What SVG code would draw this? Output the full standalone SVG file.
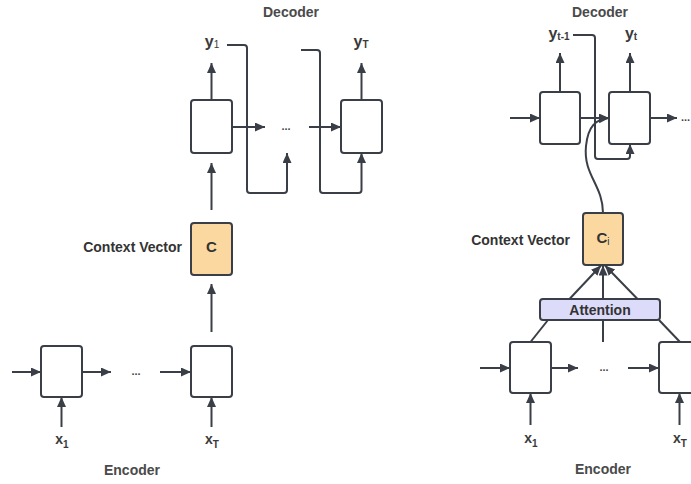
<svg xmlns="http://www.w3.org/2000/svg" width="691" height="484" viewBox="0 0 691 484">
<defs>
<marker id="ah" markerUnits="userSpaceOnUse" markerWidth="12" markerHeight="10" refX="10" refY="4.5" orient="auto"><path d="M0,0 L10,4.5 L0,9 z" fill="#3a3f47"/></marker>
<style>
.box{fill:#fff;stroke:#3a3f47;stroke-width:2}
.ctx{fill:#fbd89f;stroke:#3a3f47;stroke-width:2}
.att{fill:#dcdcfa;stroke:#3a3f47;stroke-width:2}
.ln{fill:none;stroke:#3a3f47;stroke-width:2}
.ar{fill:none;stroke:#3a3f47;stroke-width:2;marker-end:url(#ah)}
.hd{font-family:"Liberation Sans",Arial,sans-serif;font-weight:bold;font-size:14px;fill:#4a4a4a;text-anchor:middle}
.lb{font-family:"Liberation Sans",Arial,sans-serif;font-weight:bold;font-size:14px;fill:#333;text-anchor:middle}
.var{font-family:"Liberation Sans",Arial,sans-serif;font-weight:bold;fill:#3a3a3a;text-anchor:middle}
.dots{font-family:"Liberation Sans",Arial,sans-serif;font-weight:bold;font-size:11px;fill:#444;text-anchor:middle}
</style>
</defs>
<rect width="691" height="484" fill="#fff"/>

<g id="connectors">
<path class="ar" d="M12,372 H41"/>
<path class="ar" d="M82,372 H111"/>
<path class="ar" d="M160,372 H191"/>
<path class="ar" d="M61.5,427 V397"/>
<path class="ar" d="M211.5,427 V397"/>
<path class="ar" d="M211.5,332 V284"/>
<path class="ar" d="M211.5,210 V163"/>
<path class="ar" d="M211.5,100 V63"/>
<path class="ar" d="M361.5,100 V63"/>
<path class="ar" d="M232,127 H265"/>
<path class="ar" d="M309,127 H341"/>
<path class="ar" d="M227,45 H244 Q247,45 247,48 V190 Q247,193 250,193 H284 Q287,193 287,190 V153"/>
<path class="ar" d="M301,50 H317 Q320,50 320,53 V190 Q320,193 323,193 H358.5 Q361.5,193 361.5,190 V153"/>
<path class="ar" d="M510,118 H540"/>
<path class="ar" d="M580,118 H609"/>
<path class="ar" d="M650,118 H677"/>
<path class="ar" d="M560,92 V53"/>
<path class="ar" d="M630,92 V53"/>
<path class="ar" d="M573,35 H592 Q595,35 595,38 V156 Q595,159 598,159 H627 Q630,159 630,156 V144"/>
<path class="ar" d="M603,213 C603,185 583,175 586,146 C588,126 596,119 609,118"/>
<path class="ar" d="M569.5,299 L601,265.5"/>
<path class="ar" d="M603,299 V265.5"/>
<path class="ar" d="M637.5,299 L605,265.5"/>
<path class="ln" d="M530.5,342 L548,320"/>
<path class="ln" d="M603,342 V320"/>
<path class="ln" d="M680,342 L659,320"/>
<path class="ar" d="M480,368 H510"/>
<path class="ar" d="M551,368 H578"/>
<path class="ar" d="M628,368 H659"/>
<path class="ar" d="M530.5,425 V393"/>
<path class="ar" d="M679.5,425 V393"/>
</g>

<g id="L-enc-1"><rect class="box" x="41" y="346" width="41" height="51" rx="3"/></g>
<g id="L-enc-T"><rect class="box" x="191" y="346" width="41" height="51" rx="3"/></g>
<g id="L-context"><rect class="ctx" x="191" y="223" width="41" height="52" rx="3"/><text class="lb" x="211.5" y="252" style="font-size:15px">C</text></g>
<g id="L-dec-1"><rect class="box" x="191" y="100" width="41" height="53" rx="3"/></g>
<g id="L-dec-T"><rect class="box" x="341" y="100" width="41" height="53" rx="3"/></g>

<g id="L-labels">
<text class="hd" x="291" y="17">Decoder</text>
<text class="hd" x="132" y="475">Encoder</text>
<text class="lb" x="182" y="252" style="text-anchor:end">Context Vector</text>
<text class="var" x="212" y="47" style="font-size:16px">y<tspan style="font-size:10px;font-weight:normal" dy="1">1</tspan></text>
<text class="var" x="361" y="47" style="font-size:16px">y<tspan style="font-size:10px" dy="1">T</tspan></text>
<text class="var" x="62" y="443.5" style="font-size:14px">x<tspan style="font-size:10px" dy="4">1</tspan></text>
<text class="var" x="212" y="443.5" style="font-size:14px">x<tspan style="font-size:10px" dy="4">T</tspan></text>
<text class="dots" x="136" y="375">...</text>
<text class="dots" x="286" y="130">...</text>
</g>

<g id="R-dec-A"><rect class="box" x="540" y="92" width="40" height="52" rx="3"/></g>
<g id="R-dec-B"><rect class="box" x="609" y="92" width="41" height="52" rx="3"/></g>
<g id="R-context"><rect class="ctx" x="583" y="213" width="40" height="52" rx="3"/><text class="lb" x="603" y="243" style="font-size:15px">C<tspan style="font-size:10px;font-weight:normal" dy="2">i</tspan></text></g>
<g id="R-attention"><rect class="att" x="540" y="299" width="120" height="21" rx="3"/><text class="lb" x="600" y="315">Attention</text></g>
<g id="R-enc-1"><rect class="box" x="510" y="342" width="41" height="51" rx="3"/></g>
<g id="R-enc-T"><rect class="box" x="659" y="342" width="41" height="51" rx="3"/></g>

<g id="R-labels">
<text class="hd" x="600" y="17">Decoder</text>
<text class="hd" x="603" y="474">Encoder</text>
<text class="lb" x="570" y="245" style="text-anchor:end">Context Vector</text>
<text class="var" x="559" y="39" style="font-size:16px">y<tspan style="font-size:10px" dy="1">t-1</tspan></text>
<text class="var" x="631" y="39" style="font-size:16px">y<tspan style="font-size:10px" dy="1">t</tspan></text>
<text class="var" x="531" y="443" style="font-size:14px">x<tspan style="font-size:10px" dy="4">1</tspan></text>
<text class="var" x="680" y="443" style="font-size:14px">x<tspan style="font-size:10px" dy="4">T</tspan></text>
<text class="dots" x="604" y="371">...</text>
<text class="dots" x="681" y="121" style="text-anchor:start">...</text>
</g>
</svg>
